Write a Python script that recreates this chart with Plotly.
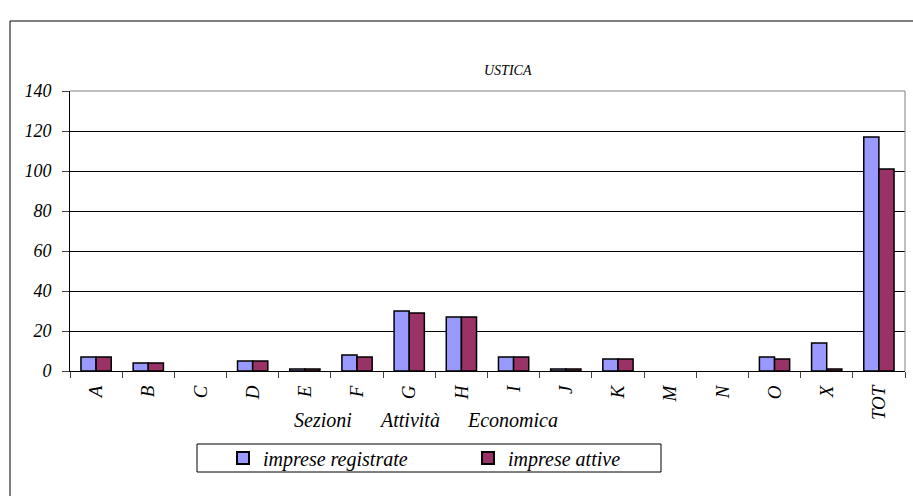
import plotly.graph_objects as go

categories = ["A", "B", "C", "D", "E", "F", "G", "H", "I", "J", "K", "M", "N", "O", "X", "TOT"]
registrate = [7, 4, 0, 5, 1, 8, 30, 27, 7, 1, 6, 0, 0, 7, 14, 117]
attive = [7, 4, 0, 5, 1, 7, 29, 27, 7, 1, 6, 0, 0, 6, 1, 101]
y_ticks = [0, 20, 40, 60, 80, 100, 120, 140]

W, H = 913, 496
L, R, T, B = 70, 8, 91, 125
pw, ph = W - L - R, H - T - B

def px(x):
    return (x - L) / pw

def py(y):
    return (H - B - y) / ph

def nz(vals):
    # zero-height bars are not drawn (no outline on the axis)
    return [v if v else None for v in vals]

FONT = "Liberation Serif, Times New Roman, serif"

fig = go.Figure()
fig.add_trace(go.Bar(x=categories, y=nz(registrate), name="<i>imprese registrate</i>",
                     marker=dict(color="#9999FF", line=dict(color="black", width=1.5))))
fig.add_trace(go.Bar(x=categories, y=nz(attive), name="<i>imprese attive</i>",
                     marker=dict(color="#993366", line=dict(color="black", width=1.5))))

fig.update_layout(
    width=W, height=H,
    margin=dict(l=L, r=R, t=T, b=B),
    paper_bgcolor="white", plot_bgcolor="white",
    font=dict(family=FONT, size=16, color="black"),
    barmode="group", bargap=0.42, bargroupgap=0,
    showlegend=True,
    legend=dict(orientation="h", x=px(223), y=py(458), xanchor="left", yanchor="middle",
                borderwidth=0, entrywidth=200, entrywidthmode="pixels",
                bgcolor="rgba(0,0,0,0)",
                font=dict(family=FONT, size=20), itemsizing="constant"),
    xaxis=dict(tickangle=-90, tickson="boundaries", ticks="outside", ticklen=6,
               tickfont=dict(family=FONT, size=19), ticklabelstandoff=6,
               showline=True, linecolor="black", linewidth=1, mirror=False,
               tickprefix="<i>", ticksuffix="</i>", fixedrange=True),
    yaxis=dict(range=[0, 140], tickvals=y_ticks, ticktext=[f"<i>{v}</i>" for v in y_ticks],
               ticks="outside", ticklen=7, tickfont=dict(family=FONT, size=18),
               ticklabelstandoff=7,
               showgrid=True, gridcolor="black", gridwidth=1,
               showline=True, linecolor="black", linewidth=1, zeroline=False, fixedrange=True),
)

fig.add_annotation(text="<i>USTICA</i>", xref="paper", yref="paper", x=px(508), y=py(70),
                   xanchor="center", yanchor="middle",
                   showarrow=False, font=dict(family=FONT, size=14))
for word, xl in [("Sezioni", 292), ("Attività", 377), ("Economica", 465)]:
    fig.add_annotation(text=f"<i>{word}</i>", xref="paper", yref="paper", x=px(xl), y=py(420),
                       xanchor="left", yanchor="middle",
                       showarrow=False, font=dict(family=FONT, size=20))
# plot area top/right gray frame
fig.add_shape(type="line", xref="paper", yref="paper", x0=1, x1=1, y0=0, y1=1,
              line=dict(color="gray", width=1))
fig.add_shape(type="line", xref="paper", yref="paper", x0=0, x1=1, y0=1, y1=1,
              line=dict(color="gray", width=1))
# legend box
fig.add_shape(type="rect", xref="paper", yref="paper", x0=px(197), x1=px(661), y0=py(472), y1=py(444),
              line=dict(color="black", width=1))
# outer chart border (right and bottom edges fall outside the visible area)
fig.add_shape(type="rect", xref="paper", yref="paper", x0=px(10), x1=px(916), y0=py(499), y1=py(21),
              line=dict(color="black", width=1))

fig.write_html("out.html", config={"displayModeBar": False},
               post_script="document.body.style.margin='0';document.body.style.padding='0';")
